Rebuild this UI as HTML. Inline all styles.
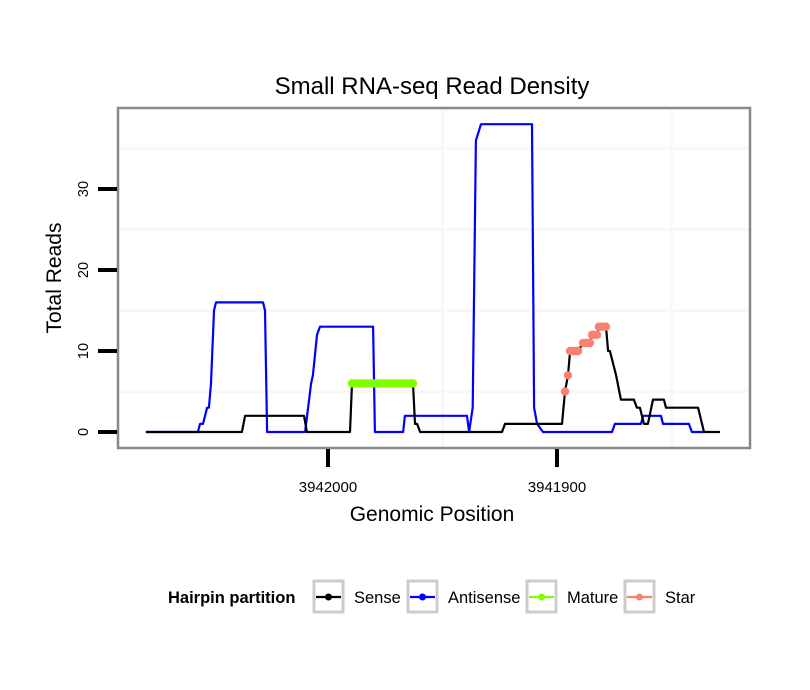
<!DOCTYPE html>
<html><head><meta charset="utf-8"><style>
body{margin:0;background:#fff;}
svg{display:block;font-family:"Liberation Sans",Arial,sans-serif;}
</style></head><body>
<svg id="chart" width="810" height="690" viewBox="0 0 810 690">
<rect width="810" height="690" fill="#fff"/>
<text x="432" y="94" font-size="24" text-anchor="middle">Small RNA-seq Read Density</text>
<g id="grid"></g>
<g id="series"></g>
<rect x="118" y="108" width="632" height="340" fill="none" stroke="#888" stroke-width="2.5"/>
<g id="axes"></g>
<text x="432" y="521" font-size="21" text-anchor="middle">Genomic Position</text>
<text transform="translate(61,278) rotate(-90)" font-size="21" text-anchor="middle">Total Reads</text>
<g id="legend">
<text x="168" y="603" font-size="16.5" font-weight="bold">Hairpin partition</text>
</g>
</svg>
<script>
const sensePos=[3942079.5,3942037.6,3942036.2,3942010.5,3942009.2,3941990.4,3941989.5,3941962.9,3941962,3941961.1,3941959.8,3941924,3941922.7,3941897.8,3941896.5,3941895.2,3941894.3,3941890.8,3941888.6,3941885.6,3941884.7,3941882.5,3941881.7,3941878.6,3941877.7,3941876.9,3941874.2,3941872.1,3941866.4,3941865.1,3941863.8,3941862,3941860.3,3941858.1,3941853.3,3941852.4,3941838.4,3941835.8,3941828.8];
const senseVal=[0,0,2,2,0,0,6,6,1,1,0,0,1,1,5,7,10,10,11,11,12,12,13,13,10,10,7,4,4,3,3,1,1,4,4,3,3,0,0];
const antiPos=[3942079.5,3942056.8,3942055.9,3942054.6,3942052.8,3942052,3942051.1,3942049.8,3942048.9,3942028.4,3942027.5,3942026.6,3942010,3942007.4,3942006.6,3942004.8,3942003.5,3941980.3,3941979.5,3941967.2,3941966.4,3941939.3,3941938.4,3941936.8,3941935.4,3941933.2,3941910.9,3941910,3941908.7,3941906.1,3941876,3941874.7,3941863.3,3941862.4,3941854.6,3941853.7,3941842.4,3941841.1,3941835.8];
const antiVal=[0,0,1,1,3,3,6,15,16,16,15,0,0,6,7,12,13,13,0,0,2,2,0,3,36,38,38,3,1,0,0,1,1,2,2,1,1,0,0];
const maturePos=[3941989.5,3941988.5,3941987.5,3941986.5,3941985.5,3941984.5,3941983.5,3941982.5,3941981.5,3941980.5,3941979.5,3941978.5,3941977.5,3941976.5,3941975.5,3941974.5,3941973.5,3941972.5,3941971.5,3941970.5,3941969.5,3941968.5,3941967.5,3941966.5,3941965.5,3941964.5,3941963.5,3941962.9];
const matureVal=[6,6,6,6,6,6,6,6,6,6,6,6,6,6,6,6,6,6,6,6,6,6,6,6,6,6,6,6];
const starPos=[3941896.5,3941895.2,3941894.3,3941893.5,3941892.5,3941891.6,3941890.8,3941888.6,3941887.5,3941886.5,3941885.6,3941884.7,3941883.6,3941882.5,3941881.7,3941880.8,3941879.7,3941878.6];
const starVal=[5,7,10,10,10,10,10,11,11,11,11,12,12,12,13,13,13,13];
const yTicks=[0,10,20,30];
const yMinor=[5,15,25,35];
const xTicks=[3942000,3941900];
const xMinor=[3941950,3941850];

const NS="http://www.w3.org/2000/svg";
const X=p=>328+(3942000-p)*2.29;
const Y=v=>432-v*8.1;
function mk(tag,attrs,parent){const e=document.createElementNS(NS,tag);for(const k in attrs)e.setAttribute(k,attrs[k]);parent.appendChild(e);return e;}
const grid=document.getElementById('grid'),series=document.getElementById('series'),axes=document.getElementById('axes'),legend=document.getElementById('legend');
mk('rect',{x:118,y:108,width:632,height:340,fill:'#fff'},grid);
yMinor.forEach(v=>{const l=mk('line',{x1:119,x2:749,y1:Y(v),y2:Y(v),stroke:'#f8f8f8','stroke-width':3},grid);

});
xMinor.forEach(p=>{const l=mk('line',{x1:X(p),x2:X(p),y1:109,y2:447,stroke:'#f8f8f8','stroke-width':3},grid);

});
function line(pos,val,color,name){const d=pos.map((p,i)=>(i?'L':'M')+X(p).toFixed(1)+','+Y(val[i]).toFixed(1)).join('');
const e=mk('path',{d:d,fill:'none',stroke:color,'stroke-width':2.2,'stroke-linejoin':'round'},series);

}
function pts(pos,val,color,name){pos.forEach((p,i)=>{const c=mk('circle',{cx:X(p),cy:Y(val[i]),r:4.2,fill:color},series);

});}
line(antiPos,antiVal,'#0000ff','antisense-line');
line(sensePos,senseVal,'#000','sense-line');
pts(maturePos,matureVal,'#7fff00','mature-point');
pts(starPos,starVal,'#fa8072','star-point');
yTicks.forEach(v=>{const t=mk('line',{x1:98,x2:117,y1:Y(v),y2:Y(v),stroke:'#000','stroke-width':4},axes);


const tx=mk('text',{transform:'translate(88,'+Y(v)+') rotate(-90)','font-size':14.5,'text-anchor':'middle'},axes);tx.textContent=v;

});
xTicks.forEach(p=>{const t=mk('line',{x1:X(p),x2:X(p),y1:449,y2:467,stroke:'#000','stroke-width':4},axes);


const tx=mk('text',{x:X(p),y:492,'font-size':15,'text-anchor':'middle'},axes);tx.textContent=p;

});
const leg=[['Sense','#000',314],['Antisense','#0000ff',408],['Mature','#7fff00',527],['Star','#fa8072',625]];
leg.forEach(([n,c,x])=>{const b=mk('rect',{x:x,y:581,width:29,height:31,fill:'#fff',stroke:'#ccc','stroke-width':3},legend);


mk('line',{x1:x+2,x2:x+27,y1:597,y2:597,stroke:c,'stroke-width':2.2},legend);
mk('circle',{cx:x+14.5,cy:597,r:3.5,fill:c},legend);
const t=mk('text',{x:x+40,y:603,'font-size':16.5},legend);t.textContent=n;

});
</script>
</body></html>
